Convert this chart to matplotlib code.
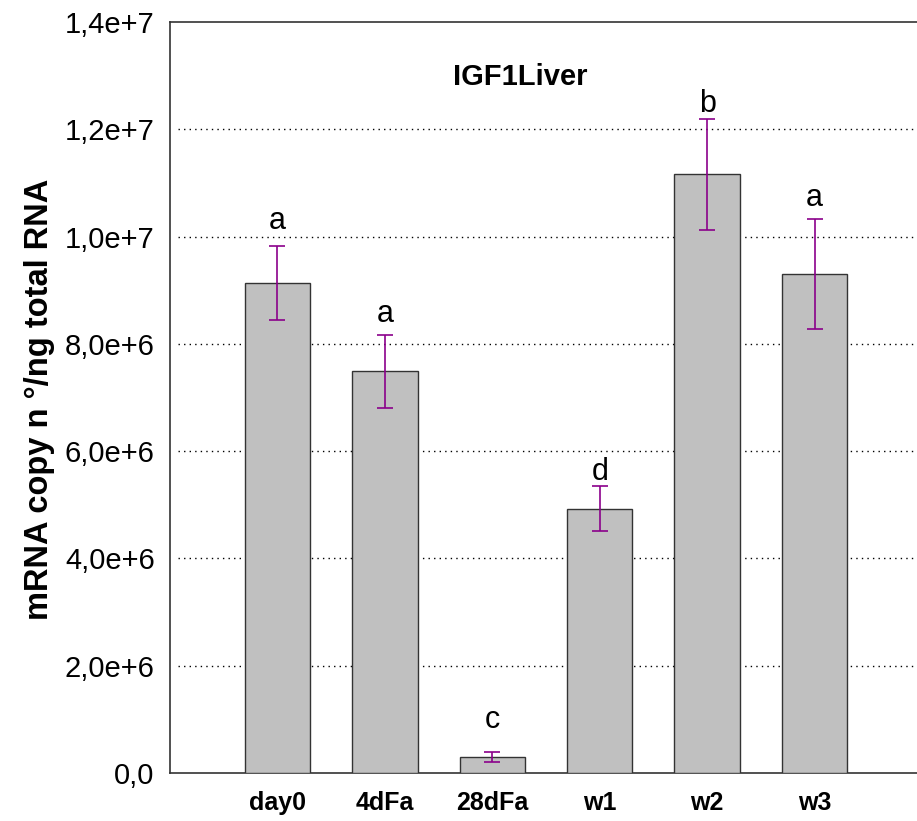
import numpy as np
import matplotlib
matplotlib.use('Agg')
import matplotlib.pyplot as plt

# data
groepen = ['day0', '4dFa', '28dFa', 'w1', 'w2', 'w3']
gemiddelde = [9.13e6, 7.49e6, 0.30e6, 4.93e6, 11.16e6, 9.30e6]
fout = [0.69e6, 0.68e6, 0.10e6, 0.42e6, 1.03e6, 1.02e6]
letters = ['a', 'a', 'c', 'd', 'b', 'a']
letter_hoogte = [10.15e6, 8.40e6, 0.84e6, 5.47e6, 12.32e6, 10.57e6]
yticks = [0, 2e6, 4e6, 6e6, 8e6, 10e6, 12e6, 14e6]
ytick_labels = ['0,0', '2,0e+6', '4,0e+6', '6,0e+6', '8,0e+6', '1,0e+7', '1,2e+7', '1,4e+7']

plt.rcParams['font.family'] = ['Liberation Sans', 'DejaVu Sans']

fig = plt.figure(figsize=(9.17, 8.21), dpi=100)
ax = fig.add_axes([170 / 917, 48 / 821, 752 / 917, 751 / 821])

x = np.arange(len(groepen))
ax.bar(x, gemiddelde, width=0.61, color='#c0c0c0', edgecolor='#333333', linewidth=1.0, zorder=3)
ax.errorbar(x, gemiddelde, yerr=fout, fmt='none', ecolor='#8b008b', elinewidth=1.2,
            capsize=5.8, capthick=1.2, zorder=4)

for i, l in enumerate(letters):
    ax.text(x[i], letter_hoogte[i], l, ha='center', va='baseline', fontsize=22)

ax.set_xlim(-1, 6)
ax.set_ylim(0, 14e6)
ax.set_yticks(yticks)
ax.set_yticklabels(ytick_labels, fontsize=21)
ax.set_xticks(x)
ax.set_xticklabels(groepen, fontsize=18, fontweight='bold')
ax.tick_params(axis='x', length=0, pad=13)
ax.tick_params(axis='y', length=0, pad=11)

# gestippelde rasterlijnen
for yv in yticks[1:-1]:
    ax.plot([-0.93, 6], [yv, yv], color='black', linestyle=(0, (1, 3)), linewidth=1.0, zorder=1)

ax.spines['right'].set_visible(False)
for s in ['left', 'top', 'bottom']:
    ax.spines[s].set_color('#333333')
    ax.spines[s].set_linewidth(1.2)

ax.set_ylabel('mRNA copy n °/ng total RNA', fontsize=23.5, fontweight='bold')
ax.yaxis.set_label_coords(-0.153, 0.498)
ax.text(2.26, 12.98e6, 'IGF1Liver', ha='center', va='center', fontsize=21, fontweight='bold')

fig.savefig('out.png', dpi=100)
